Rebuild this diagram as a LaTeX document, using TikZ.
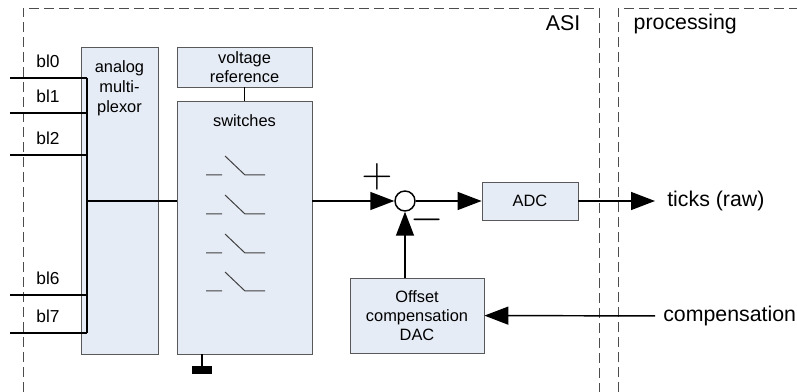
\documentclass[tikz,border=0pt]{standalone}
\usepackage{fix-cm}
\usepackage{fontspec}
\setmainfont{Liberation Sans}
\usetikzlibrary{arrows.meta}
\definecolor{boxfill}{HTML}{E6ECF6}
\begin{document}
\begin{tikzpicture}[x=0.75pt,y=-0.75pt,
	box/.style={draw=black!65,fill=boxfill,line width=0.6pt,inner sep=0pt},
	txt/.style={font=\fontsize{12.3}{14.5}\selectfont,align=center},
	big/.style={font=\fontsize{16}{19}\selectfont},
	wire/.style={line width=1.1pt},
	sig/.style={-{Triangle[length=18pt,width=13.5pt]},line width=1.1pt},
	zone/.style={draw=black!70,dash pattern=on 7.5pt off 3.75pt,line width=0.6pt},
	pm/.style={font=\fontsize{32}{32}\selectfont,inner sep=0pt}]
\useasboundingbox (0,0) rectangle (797,392);
% ASI and processing areas
\draw [zone] (23,392) |- (599,8) -- (599,392);
\draw [zone] (618,392) |- (797,8);
\node [big,anchor=base] (asi) at (563,31) {ASI};
\node [big,anchor=base west] (proc) at (629,30) {processing};
% blocks
\node [box,minimum width=57.75pt,minimum height=230.25pt] (mux) at (119.5,200.5) {};
\node [txt,font=\fontsize{12.3}{15}\selectfont,anchor=north] (muxtext) at ([yshift=-7pt]mux.north) {analog\\multi-\\plexor};
\node [box,txt,minimum width=101.25pt,minimum height=30pt] (vref) at (244.5,67) {voltage\\reference};
\node [box,minimum width=101.25pt,minimum height=189.75pt] (sw) at (244.5,227.5) {};
\node [txt,anchor=north] (swtext) at ([yshift=-7pt]sw.north) {switches};
\node [circle,draw,line width=1.1pt,fill=white,minimum size=15pt,inner sep=0pt] (sum) at (405,201) {};
\node [pm] (plus) at (377,177) {$+$};
\node [pm] (minus) at (427,220) {$-$};
\node [box,txt,minimum width=72pt,minimum height=28.5pt] (adc) at (530,201) {ADC};
\node [box,txt,minimum width=100.5pt,minimum height=56.25pt] (dac) at (417,315.5) {Offset\\compensation\\DAC};
\node [big,anchor=west,inner xsep=9pt] (ticks) at (655,201) {ticks (raw)};
\node [big,anchor=west,inner xsep=6pt] (comp) at (655,316) {compensation};
\node [fill=black,minimum width=15pt,minimum height=6pt,inner sep=0pt] (gnd) at (202,370) {};
% switch symbols
\foreach \y in {175,214,253,291}
	\draw [black!75,line width=0.75pt] (206,\y) -- (222,\y) (225,\y-19) -- (245,\y) -- (265,\y);
% bit lines and bus
\coordinate (bus) at (87,201);
\foreach \n/\y in {0/78,1/113,2/155,6/295,7/333} {
	\coordinate (bl\n) at (10,\y);
	\draw [wire] (bl\n) -- (bl\n -| bus);
	\node [font=\fontsize{13}{15}\selectfont,anchor=south,inner sep=0pt] (lbl\n) at (48,\y-10) {bl\n};
}
\draw [wire] (bl0 -| bus) -- (bl7 -| bus);
\draw [wire] (bus) -- (bus -| sw.west);
\draw [wire] (vref) -- (sw);
\draw [wire] (sw.south -| gnd) -- (gnd);
\draw [sig] (bus -| sw.east) -- (sum);
\draw [sig] (sum) -- (adc);
\draw [sig] (adc) -- (ticks);
\draw [sig] (comp) -- (dac);
\draw [sig] (dac.north -| sum) -- (sum);
\end{tikzpicture}
\end{document}
